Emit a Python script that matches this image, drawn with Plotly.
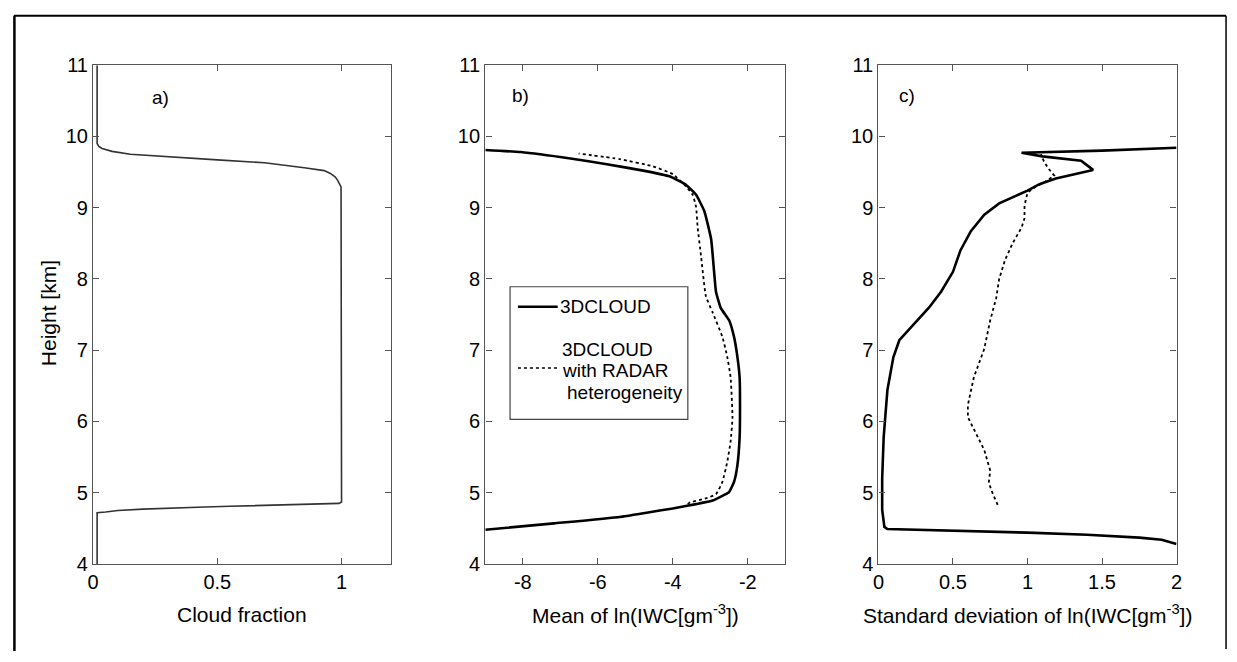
import plotly.graph_objects as go

# ---------------- data ----------------
# Panel a: cloud fraction profile
height_a = [4.0, 4.72, 4.73, 4.75, 4.77, 4.78, 4.80, 4.81, 4.82, 4.83, 4.84, 4.85, 4.87,
            9.20, 9.29, 9.38, 9.43, 9.48, 9.52, 9.56, 9.60, 9.63, 9.67, 9.70, 9.73,
            9.75, 9.79, 9.83, 9.86, 9.90, 11.0]
cloud_fraction = [0.016, 0.016, 0.05, 0.10, 0.20, 0.32, 0.45, 0.55, 0.65, 0.75, 0.90, 0.99, 1.0,
                  1.0, 0.998, 0.985, 0.975, 0.955, 0.93, 0.85, 0.76, 0.69, 0.50, 0.37, 0.25,
                  0.15, 0.076, 0.036, 0.023, 0.016, 0.016]

# Panel b: mean of ln(IWC)
height_b_3d = [4.48, 4.57, 4.66, 4.72, 4.78, 4.84, 4.89, 4.97, 5.01, 5.15, 5.38, 5.77, 6.05,
               6.62, 6.91, 7.19, 7.42, 7.59, 7.82, 8.10, 8.56, 8.95, 9.18, 9.32, 9.44,
               9.52, 9.61, 9.69, 9.78, 9.81]
mean_3d = [-9.0, -7.17, -5.41, -4.70, -4.00, -3.38, -2.94, -2.63, -2.50, -2.37, -2.28, -2.22, -2.21,
           -2.22, -2.28, -2.37, -2.50, -2.72, -2.85, -2.90, -2.98, -3.16, -3.38, -3.65, -4.09,
           -4.79, -5.76, -6.73, -8.06, -9.0]
height_b_radar = [4.84, 4.86, 4.92, 4.98, 5.15, 5.43, 5.72, 6.05, 6.62, 6.91, 7.19, 7.53, 7.76,
                  8.33, 8.73, 9.01, 9.18, 9.30, 9.47, 9.58, 9.68, 9.76]
mean_radar = [-3.60, -3.56, -3.12, -2.85, -2.68, -2.55, -2.46, -2.41, -2.46, -2.55, -2.68, -2.94, -3.12,
              -3.25, -3.34, -3.38, -3.47, -3.65, -4.00, -4.53, -5.41, -6.51]

# Panel c: standard deviation of ln(IWC)
height_c_3d = [4.28, 4.34, 4.37, 4.41, 4.44, 4.46, 4.48, 4.49, 4.52, 4.76, 5.20, 5.78, 6.44,
               6.90, 7.14, 7.37, 7.60, 7.82, 8.10, 8.40, 8.67, 8.90, 9.06, 9.24, 9.33,
               9.41, 9.53, 9.66, 9.72, 9.77, 9.80, 9.84]
std_3d = [2.0, 1.9, 1.75, 1.4, 1.0, 0.6, 0.2, 0.06, 0.04, 0.025, 0.025, 0.035, 0.06,
          0.10, 0.14, 0.24, 0.34, 0.42, 0.50, 0.55, 0.62, 0.71, 0.81, 1.0, 1.08,
          1.19, 1.44, 1.36, 1.10, 0.96, 1.5, 2.0]
height_c_radar = [4.83, 4.97, 5.14, 5.31, 5.60, 5.89, 6.06, 6.23, 6.62, 7.02, 7.42, 7.73, 8.0,
                  8.27, 8.50, 8.72, 8.85, 9.03, 9.21, 9.30, 9.38, 9.45, 9.55, 9.65, 9.75]
std_radar = [0.80, 0.77, 0.74, 0.75, 0.71, 0.64, 0.60, 0.60, 0.64, 0.71, 0.75, 0.79, 0.81,
             0.85, 0.90, 0.96, 0.98, 0.98, 1.0, 1.06, 1.13, 1.18, 1.14, 1.11, 1.09]

y_ticks = [4, 5, 6, 7, 8, 9, 10, 11]
x_ticks_a = [0, 0.5, 1]
x_tick_text_a = ["0", "0.5", "1"]
x_ticks_b = [-8, -6, -4, -2]
x_tick_text_b = ["-8", "-6", "-4", "-2"]
x_ticks_c = [0, 0.5, 1, 1.5, 2]
x_tick_text_c = ["0", "0.5", "1", "1.5", "2"]

legend_labels = ["3DCLOUD", "3DCLOUD", "with RADAR", "heterogeneity"]
panel_labels = ["a)", "b)", "c)"]
x_titles = ["Cloud fraction", "Mean of ln(IWC[gm<sup>-3</sup>])",
            "Standard deviation of ln(IWC[gm<sup>-3</sup>])"]
y_title = "Height [km]"

# ---------------- figure ----------------
W, H = 1237, 662
FONT = "Liberation Sans, Arial, sans-serif"

def px_x(p):
    return p / W

def px_y(p):
    return 1 - p / H

fig = go.Figure()

fig.add_trace(go.Scatter(x=cloud_fraction, y=height_a, mode="lines",
                         line=dict(color="#333", width=1.6),
                         xaxis="x", yaxis="y", showlegend=False))
fig.add_trace(go.Scatter(x=mean_3d, y=height_b_3d, mode="lines",
                         line=dict(color="black", width=2.6, shape="spline", smoothing=0.4),
                         xaxis="x2", yaxis="y2", showlegend=False))
fig.add_trace(go.Scatter(x=mean_radar, y=height_b_radar, mode="lines",
                         line=dict(color="black", width=1.8, dash="dot", shape="spline", smoothing=0.4),
                         xaxis="x2", yaxis="y2", showlegend=False))
fig.add_trace(go.Scatter(x=std_3d, y=height_c_3d, mode="lines",
                         line=dict(color="black", width=2.6),
                         xaxis="x3", yaxis="y3", showlegend=False))
fig.add_trace(go.Scatter(x=std_radar, y=height_c_radar, mode="lines",
                         line=dict(color="black", width=1.8, dash="dot"),
                         xaxis="x3", yaxis="y3", showlegend=False))

y_dom = [px_y(572), px_y(56)]
doms = [(88, 389), (484, 787), (881, 1182)]
axis_common = dict(showline=True, linecolor="#555", linewidth=1.4, mirror="ticks",
                   ticks="inside", ticklen=6, tickwidth=1.4, tickcolor="#555",
                   showgrid=False, zeroline=False,
                   tickfont=dict(family=FONT, size=20, color="black"))

fig.update_layout(
    width=W, height=H,
    margin=dict(l=0, r=0, t=0, b=0),
    paper_bgcolor="white", plot_bgcolor="white",
    xaxis=dict(domain=[px_x(doms[0][0]), px_x(doms[0][1])], range=[0, 1.2],
               tickvals=x_ticks_a, ticktext=x_tick_text_a, anchor="y", **axis_common),
    yaxis=dict(domain=y_dom, range=[4, 11], tickvals=y_ticks, anchor="x", **axis_common),
    xaxis2=dict(domain=[px_x(doms[1][0]), px_x(doms[1][1])], range=[-9, -1],
                tickvals=x_ticks_b, ticktext=x_tick_text_b, anchor="y2", **axis_common),
    yaxis2=dict(domain=y_dom, range=[4, 11], tickvals=y_ticks, anchor="x2", **axis_common),
    xaxis3=dict(domain=[px_x(doms[2][0]), px_x(doms[2][1])], range=[0, 2],
                tickvals=x_ticks_c, ticktext=x_tick_text_c, anchor="y3", **axis_common),
    yaxis3=dict(domain=y_dom, range=[4, 11], tickvals=y_ticks, anchor="x3", **axis_common),
)

annotations = []
# x titles
for (l, r), t in zip(doms, x_titles):
    annotations.append(dict(text=t, x=px_x((l + r) / 2), y=px_y(624), xref="paper", yref="paper",
                            showarrow=False, xanchor="center", yanchor="middle",
                            font=dict(family=FONT, size=21, color="black")))
# y title
annotations.append(dict(text=y_title, x=px_x(43), y=px_y(313), xref="paper", yref="paper",
                        showarrow=False, textangle=-90, xanchor="center", yanchor="middle",
                        font=dict(family=FONT, size=21, color="black")))
# panel labels
for (xv, yv, xr, yr), lab in zip([(0.27, 10.55, "x", "y"), (-8.05, 10.58, "x2", "y2"),
                                  (0.19, 10.58, "x3", "y3")], panel_labels):
    annotations.append(dict(text=lab, x=xv, y=yv, xref=xr, yref=yr, showarrow=False,
                            xanchor="center", yanchor="middle",
                            font=dict(family=FONT, size=19, color="black")))
# legend texts (panel b)
leg_pos = [(-7.07, 7.61), (-7.00, 7.01), (-7.00, 6.71), (-6.87, 6.40)]
for (xv, yv), lab in zip(leg_pos, legend_labels):
    annotations.append(dict(text=lab, x=xv, y=yv, xref="x2", yref="y2", showarrow=False,
                            xanchor="left", yanchor="middle",
                            font=dict(family=FONT, size=19, color="black")))
fig.update_layout(annotations=annotations)

shapes = [
    # legend box
    dict(type="rect", xref="x2", yref="y2", x0=-8.34, x1=-3.60, y0=6.03, y1=7.89,
         line=dict(color="#444", width=1.2), fillcolor="white", layer="below"),
    dict(type="line", xref="x2", yref="y2", x0=-8.13, x1=-7.07, y0=7.61, y1=7.61,
         line=dict(color="black", width=2.6)),
    dict(type="line", xref="x2", yref="y2", x0=-8.13, x1=-7.02, y0=6.75, y1=6.75,
         line=dict(color="black", width=1.6, dash="dot")),
    # figure border
    dict(type="line", xref="paper", yref="paper", x0=px_x(8), x1=px_x(1232), y0=px_y(5), y1=px_y(5),
         line=dict(color="black", width=2)),
    dict(type="line", xref="paper", yref="paper", x0=px_x(8.5), x1=px_x(8.5), y0=px_y(5), y1=0,
         line=dict(color="black", width=2.5)),
    dict(type="line", xref="paper", yref="paper", x0=px_x(1232), x1=px_x(1232), y0=px_y(5), y1=px_y(660),
         line=dict(color="black", width=1.5)),
]
fig.update_layout(shapes=shapes)

fig.write_html("out.html")
